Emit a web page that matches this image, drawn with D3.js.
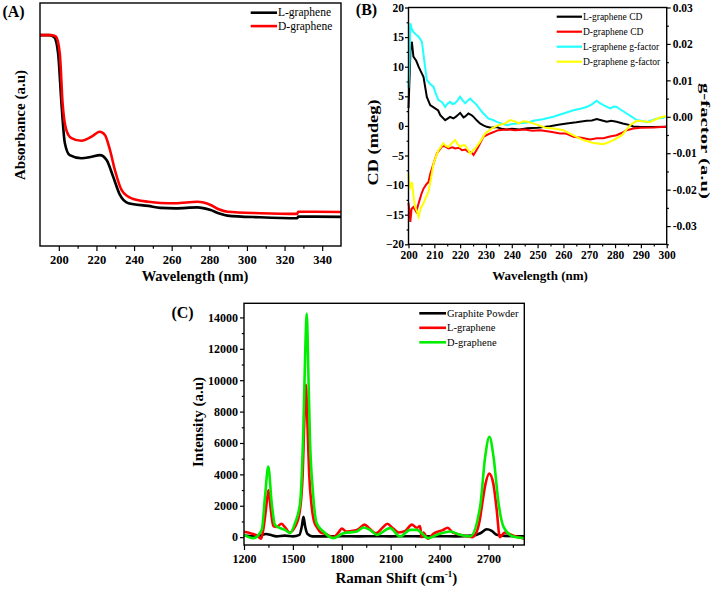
<!DOCTYPE html>
<html>
<head>
<meta charset="utf-8">
<script src="https://cdn.jsdelivr.net/npm/d3@7"></script>
<style>
body { margin: 0; background: #fff; }
svg text { font-family: "Liberation Serif", "Times New Roman", serif; }
</style>
</head>
<body>
<svg id="fig" width="713" height="589"></svg>
<script>
// ---- panel A : UV-vis absorbance, [wavelength nm, absorbance a.u.]
var absL = [[190,0.868],[195,0.868],[197.5,0.86],[199.6,0.794],[201.4,0.588],[203.2,0.424],[205.8,0.374],[212,0.361],
  [217.4,0.367],[221.8,0.374],[225.4,0.354],[228.9,0.285],[232.5,0.210],[237,0.176],[247.6,0.165],[254,0.157],
  [262,0.155],[273.6,0.159],[280.7,0.148],[285,0.135],[289.6,0.125],[307,0.118],[326.8,0.114],[327.2,0.121],[350,0.120]]
var absD = [[190,0.868],[196,0.868],[198.5,0.862],[200.5,0.794],[202,0.588],[204,0.477],[206.7,0.444],[212,0.433],
  [217.4,0.450],[221.8,0.470],[224.5,0.457],[227.2,0.395],[229.8,0.313],[233.4,0.230],[238.7,0.196],[247.6,0.182],
  [254,0.177],[262,0.176],[273.6,0.182],[280.7,0.169],[285,0.151],[289.6,0.141],[307,0.135],[326.8,0.132],[327.2,0.141],[350,0.140]]
var aTicks = [200,220,240,260,280,300,320,340]

// ---- panel B : CD (mdeg) and g-factor, [wavelength nm, value]
var cdL = [[200,3],[200.4,8],[200.8,13.4],[201.3,14.2],[201.9,11.7],[203,11],[203.9,10],[205,9],[205.8,8.3],[207.1,4.9],
  [208.4,3.5],[210.3,2.95],[211.5,2.6],[212.3,1.8],[214.2,0.97],[215,1.2],[216.1,1.53],[217.4,1.26],[218.5,1.6],[220,2.2],
  [221.3,1.43],[222,1.6],[223.2,2.1],[224.5,1.8],[225.2,1.53],[226.5,0.9],[227.7,0.41],[229,0.1],[230.3,-0.16],[232,-0.3],
  [234.2,-0.2],[236,-0.5],[238,-0.6],[240,-0.5],[243,-0.6],[246,-0.4],[250,-0.3],[254.8,-0.04],[258,0.2],[261.3,0.41],
  [265,0.6],[269,0.85],[271,0.9],[272.9,1.14],[275,0.9],[276.8,0.69],[278.5,0.85],[280.6,0.69],[283,0.4],[285.8,0.13],
  [287,-0.1],[290,-0.2],[295,-0.2],[300,-0.15]]
var cdD = [[200,-13],[200.4,-14.5],[200.7,-16.2],[201.2,-14],[201.9,-13.7],[203,-14.5],[203.9,-13.1],[205,-11.5],[205.8,-10.6],
  [207,-9.8],[207.7,-9.5],[208.5,-8],[209.7,-6.35],[211,-4.66],[212.9,-3.5],[214,-3.4],[215.5,-3.8],[217,-3.6],[218.1,-3.8],
  [219.5,-3.7],[220.7,-4.1],[222,-4],[223.2,-4.4],[224.3,-4.4],[225.2,-4.9],[226.2,-4.2],[227.1,-3.5],[229,-1.85],[231.6,-1.28],
  [234.8,-0.72],[238,-0.6],[241.3,-0.72],[245,-0.6],[248,-0.8],[251,-0.72],[255,-1],[258.7,-1.28],[261,-1.3],[263.9,-1.85],
  [267,-2],[270.3,-2.3],[273,-2.1],[275.5,-2.1],[278,-1.8],[280.6,-1.57],[282.5,-1.2],[284.5,-0.72],[287.1,-0.43],[290,-0.3],
  [295,-0.25],[299.3,-0.16],[300,-0.1]]
var gL = [[200,0.008],[200.4,0.015],[200.7,0.0257],[201.3,0.024],[201.9,0.0233],[203,0.0225],[203.9,0.022],[205.2,0.0206],
  [206,0.016],[207.1,0.0101],[208.4,0.009],[209.7,0.0082],[210.5,0.0065],[211.6,0.0046],[213,0.004],[214.2,0.0027],[215,0.0035],
  [216.1,0.0041],[217,0.0035],[218,0.0037],[219,0.0045],[220,0.0055],[221,0.0045],[222,0.0037],[223,0.0045],[223.9,0.005],
  [225,0.0042],[226.5,0.0032],[227.7,0.002],[229,0.0009],[231,-0.0005],[232.5,-0.0008],[234.2,-0.0014],[236,-0.0018],
  [238.1,-0.0023],[240,-0.002],[243.2,-0.0018],[246,-0.0016],[248.4,-0.0011],[252,-0.0007],[256.1,0],[260,0.0009],
  [263.9,0.0018],[266.5,0.0022],[269,0.0027],[271,0.0034],[272.9,0.0044],[274,0.0038],[275.5,0.0032],[278.1,0.0023],
  [279.5,0.0028],[280.6,0.0027],[282.5,0.0018],[284.5,0.0009],[286.5,0],[288.4,-0.0009],[292.3,-0.0014],[296.1,-0.0005],
  [298.7,-0.0003],[300,0.0002]]
var gD = [[200,-0.0156],[200.3,-0.018],[200.7,-0.0193],[201.3,-0.0179],[202,-0.022],[202.6,-0.0248],[203.3,-0.026],
  [203.9,-0.0275],[204.8,-0.025],[205.8,-0.0238],[206.8,-0.022],[207.7,-0.0207],[208.7,-0.017],[209.7,-0.0128],[210.6,-0.011],
  [211.6,-0.0092],[213.5,-0.0073],[214.5,-0.008],[215.5,-0.0083],[216.8,-0.0072],[218.1,-0.0064],[219,-0.0075],[220,-0.0083],
  [221,-0.0078],[221.9,-0.0078],[223,-0.009],[223.9,-0.0101],[225,-0.0092],[225.8,-0.0087],[227.7,-0.0069],[229.7,-0.0046],
  [232.3,-0.0032],[234.8,-0.0023],[237.4,-0.0018],[239.4,-0.0009],[241,-0.0012],[242.6,-0.0018],[244.5,-0.0012],
  [246.4,-0.0014],[250.3,-0.0023],[253,-0.003],[256.1,-0.0032],[260,-0.0037],[263.9,-0.0051],[267.7,-0.0064],
  [271.6,-0.0072],[275.5,-0.0075],[277.5,-0.007],[279.3,-0.0064],[282.6,-0.0051],[285.8,-0.0023],[288.4,-0.0011],
  [293.5,-0.0014],[297.4,-0.0002],[300,0.0002]]
var bTicks = [200,210,220,230,240,250,260,270,280,290,300]
var cdTicks = [-20,-15,-10,-5,0,5,10,15,20]
var gTicks = [-0.03,-0.02,-0.01,0,0.01,0.02,0.03]

// ---- panel C : Raman, [shift cm-1, intensity a.u.]
var ramanGraphite = [[1200,100],[1250,50],[1300,100],[1335,200],[1360,150],[1400,50],[1450,100],[1500,50],[1540,150],
  [1555,700],[1565,1300],[1575,700],[1590,200],[1620,50],[1700,50],[1800,60],[1900,50],[2000,60],[2100,50],[2200,60],
  [2300,50],[2400,60],[2500,50],[2600,100],[2650,250],[2690,500],[2720,400],[2750,150],[2800,80],[2920,50]]
var ramanL = [[1200,350],[1240,250],[1280,100],[1305,-100],[1320,600],[1335,1800],[1350,3000],[1365,1700],[1380,700],
  [1400,650],[1430,850],[1450,650],[1480,300],[1510,600],[1540,1500],[1560,4000],[1572,8000],[1580,9700],[1590,7000],
  [1600,4000],[1615,2000],[1630,1000],[1650,600],[1670,300],[1700,200],[1750,0],[1780,300],[1800,550],[1830,350],
  [1870,400],[1900,500],[1940,800],[1970,550],[2010,250],[2050,600],[2080,850],[2110,600],[2150,300],[2190,400],
  [2230,800],[2260,600],[2280,700],[2290,0],[2300,300],[2330,-100],[2360,200],[2420,450],[2450,600],[2480,300],
  [2550,100],[2600,0],[2630,400],[2645,1000],[2660,2000],[2680,3300],[2705,4050],[2730,3400],[2750,1800],[2770,0],
  [2800,300],[2850,100],[2920,-100]]
var ramanD = [[1200,146],[1257,-64],[1309,465],[1329,2583],[1349,4492],[1370,2163],[1390,783],[1421,573],[1452,465],
  [1482,254],[1513,890],[1544,2163],[1564,6828],[1575,11492],[1585,14253],[1595,10436],[1605,6191],[1622,3010],
  [1646,890],[1687,360],[1748,-64],[1810,254],[1892,360],[1933,615],[1973,465],[2015,146],[2096,573],[2158,40],
  [2219,465],[2260,465],[2331,-64],[2383,146],[2465,360],[2526,146],[2587,40],[2649,1947],[2680,5129],[2706,6401],
  [2731,5129],[2762,2163],[2792,675],[2853,40],[2920,-64]]
var cTicks = [1200,1500,1800,2100,2400,2700]
var iTicks = [0,2000,4000,6000,8000,10000,12000,14000]

var svg = d3.select('#fig')

function frame(g, x, y) {
    g.append('rect')
        .attr('x', x.range()[0]).attr('y', y.range()[1])
        .attr('width', x.range()[1] - x.range()[0])
        .attr('height', y.range()[0] - y.range()[1])
        .attr('fill', 'none').attr('stroke', '#000').attr('stroke-width', 1.4)
}

// major + minor ticks for one axis side
function ticks(g, axisFn, scale, pos, major, minor, size, pad, fs, fmt) {
    let minorAx = g.append('g').attr('transform', pos)
        .call(axisFn(scale).tickValues(minor).tickSize(size * 0.55).tickFormat(''))
    minorAx.select('.domain').remove()
    let majorAx = g.append('g').attr('transform', pos)
        .call(axisFn(scale).tickValues(major).tickSize(size).tickPadding(pad).tickFormat(fmt))
    majorAx.select('.domain').remove()
    g.selectAll('.tick line').attr('stroke-width', 1.2)
    majorAx.attr('font-family', null)
    majorAx.selectAll('text')
        .attr('font-weight', 'bold').attr('font-size', fs).attr('fill', '#000')
}

function legend(g, items, x0, x1, y0, step, fs, lw) {
    items.forEach((it, i) => {
        g.append('line').attr('x1', x0).attr('x2', x1)
            .attr('y1', y0 + i * step).attr('y2', y0 + i * step)
            .attr('stroke', it[1]).attr('stroke-width', lw)
        g.append('text').attr('x', x1 + 1).attr('y', y0 + i * step + fs * 0.33)
            .attr('font-size', fs).text(it[0])
    })
}

function label(g, txt, x, y, fs, rot, len) {
    let t = g.append('text').attr('font-weight', 'bold').attr('font-size', fs)
        .attr('text-anchor', 'middle')
        .attr('transform', `translate(${x},${y}) rotate(${rot || 0})`)
        .text(txt)
    if (len) t.attr('textLength', len).attr('lengthAdjust', 'spacingAndGlyphs')
    return t
}

// ================= panel A
{
    let g = svg.append('g')
    let x = d3.scaleLinear().domain([190, 350]).range([40, 341])
    let y = d3.scaleLinear().domain([0, 1]).range([246, 3])
    let line = d3.line().x(d => x(d[0])).y(d => y(d[1])).curve(d3.curveMonotoneX)

    ticks(g, d3.axisBottom, x, 'translate(0,246)', aTicks, d3.range(210, 350, 20), 5, 4.5, 12.5, d3.format('d'))
    g.append('path').datum(absL).attr('d', line).attr('fill', 'none').attr('stroke', '#000').attr('stroke-width', 2.6)
    g.append('path').datum(absD).attr('d', line).attr('fill', 'none').attr('stroke', '#ff0000').attr('stroke-width', 2.6)
    frame(g, x, y)

    legend(g, [['L-graphene', '#000'], ['D-graphene', '#ff0000']], 250.7, 277, 12.7, 13.4, 11.5, 2.6)
    label(g, 'Wavelength (nm)', 195, 281, 14.5)
    label(g, 'Absorbance (a.u)', 24.5, 125, 15, -90)
    label(g, '(A)', 13.5, 17, 16)
}

// ================= panel B
{
    let g = svg.append('g')
    let x = d3.scaleLinear().domain([200, 300]).range([408.5, 666.7])
    let yL = d3.scaleLinear().domain([-20, 20]).range([244.3, 7.5])
    let yR = d3.scaleLinear().domain([-0.035, 0.03]).range([244.3, 7.5])
    let lineL = d3.line().x(d => x(d[0])).y(d => yL(d[1]))
    let lineR = d3.line().x(d => x(d[0])).y(d => yR(d[1]))

    ticks(g, d3.axisBottom, x, 'translate(0,244.3)', bTicks, d3.range(205, 300, 10), 4, 3, 11.5, d3.format('d'))
    ticks(g, d3.axisLeft, yL, 'translate(408.5,0)', cdTicks, d3.range(-17.5, 20, 5), 3.5, 1, 11.5, d3.format('d'))
    ticks(g, d3.axisRight, yR, 'translate(666.7,0)', gTicks, [-0.035, -0.025, -0.015, -0.005, 0.005, 0.015, 0.025], 4, 2, 11.5, d => d.toFixed(2))

    g.append('path').datum(cdL).attr('d', lineL).attr('fill', 'none').attr('stroke', '#000').attr('stroke-width', 2)
    g.append('path').datum(cdD).attr('d', lineL).attr('fill', 'none').attr('stroke', '#ff0000').attr('stroke-width', 2)
    g.append('path').datum(gL).attr('d', lineR).attr('fill', 'none').attr('stroke', '#22ffff').attr('stroke-width', 2)
    g.append('path').datum(gD).attr('d', lineR).attr('fill', 'none').attr('stroke', '#ffff00').attr('stroke-width', 2)
    frame(g, x, yL)

    legend(g, [['L-graphene CD', '#000'], ['D-graphene CD', '#ff0000'], ['L-graphene g-factor', '#22ffff'],
        ['D-graphene g-factor', '#ffff00']], 556.7, 582, 16.7, 15, 9.5, 2.2)
    label(g, 'Wavelength (nm)', 540, 280, 13)
    label(g, 'CD (mdeg)', 377.5, 142.5, 14, -90, 86)
    label(g, 'g-factor (a.u)', 700.5, 141, 13.5, 90, 116)
    label(g, '(B)', 366.5, 15, 16)
}

// ================= panel C
{
    let g = svg.append('g')
    let x = d3.scaleLinear().domain([1200, 2920]).range([244, 524.3])
    let y = d3.scaleLinear().domain([-500, 14900]).range([545, 303.3])
    let line = d3.line().x(d => x(d[0])).y(d => y(d[1])).curve(d3.curveMonotoneX)

    ticks(g, d3.axisBottom, x, 'translate(0,545)', cTicks, d3.range(1350, 2920, 300), 5, 4.5, 12, d3.format('d'))
    ticks(g, d3.axisLeft, y, 'translate(244,0)', iTicks, d3.range(1000, 15000, 2000), 4, 2, 12, d3.format('d'))

    g.append('path').datum(ramanGraphite).attr('d', line).attr('fill', 'none').attr('stroke', '#000').attr('stroke-width', 2.6)
    g.append('path').datum(ramanL).attr('d', line).attr('fill', 'none').attr('stroke', '#ff0000').attr('stroke-width', 2.6)
    g.append('path').datum(ramanD).attr('d', line).attr('fill', 'none').attr('stroke', '#00ee00').attr('stroke-width', 2.6)
    frame(g, x, y)

    legend(g, [['Graphite Powder', '#000'], ['L-graphene', '#ff0000'], ['D-graphene', '#00ee00']], 419.3, 446, 313.3, 14.5, 10.5, 2.6)
    let t = label(g, 'Raman Shift (cm', 396.3, 583.3, 15)
    t.append('tspan').attr('font-size', 9).attr('dy', -6).text('-1')
    t.append('tspan').attr('dy', 6).text(')')
    label(g, 'Intensity (a.u)', 203, 422, 15, -90)
    label(g, '(C)', 182.5, 318, 16)
}
</script>
</body>
</html>
